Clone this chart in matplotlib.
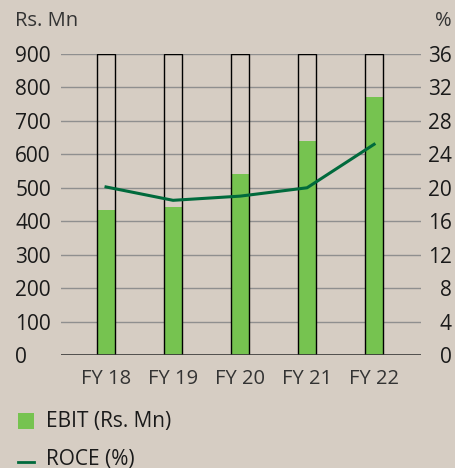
import matplotlib
matplotlib.use("Agg")
import matplotlib.pyplot as plt
from matplotlib.patches import Rectangle
from matplotlib.lines import Line2D

years = ["FY 18", "FY 19", "FY 20", "FY 21", "FY 22"]
ebit = [435, 442, 540, 640, 770]
roce = [20.1, 18.5, 19.0, 20.0, 25.2]
ebit_ticks = [0, 100, 200, 300, 400, 500, 600, 700, 800, 900]
roce_ticks = [0, 4, 8, 12, 16, 20, 24, 28, 32, 36]

bg = "#d6cdc3"
green = "#76c350"
dark_green = "#006a3c"
plt.rcParams["font.family"] = ["Open Sans", "DejaVu Sans"]

W, H = 455, 468
fig = plt.figure(figsize=(W / 100, H / 100), dpi=100, facecolor=bg)
ax = fig.add_axes([61 / W, 113 / H, 360 / W, 301 / H])
ax.set_facecolor("none")

x = list(range(len(years)))
ax.set_xlim(-0.672, 4.70)
ax.set_ylim(0, 900)
for v in ebit_ticks[1:]:
    ax.axhline(v, color="#8f8f8f", lw=1, zorder=0)
ax.axhline(0, color="#3a3a3a", lw=1.2, zorder=3)

ax.bar(x, ebit, width=0.27, color=green, edgecolor="none", zorder=1)
ax.bar(x, [900] * len(x), width=0.27, facecolor="none", edgecolor="black", lw=1, zorder=2)

ax.set_yticks(ebit_ticks)
ax.set_xticks(x)
ax.set_xticklabels(years)
ax.tick_params(axis="y", length=0, pad=33, labelsize=15, labelcolor="#1a1a1a")
ax.tick_params(axis="x", length=0, pad=10, labelsize=14.5, labelcolor="#333333")
for lab in ax.get_yticklabels():
    lab.set_horizontalalignment("left")
for s in ax.spines.values():
    s.set_visible(False)

ax2 = ax.twinx()
ax2.set_facecolor("none")
ax2.set_ylim(0, 36)
ax2.set_yticks(roce_ticks)
ax2.plot(x, roce, color=dark_green, lw=2.2, zorder=5)
ax2.tick_params(axis="y", length=0, pad=22.3, labelsize=15, labelcolor="#1a1a1a")
for lab in ax2.get_yticklabels():
    lab.set_horizontalalignment("right")
for s in ax2.spines.values():
    s.set_visible(False)

fig.text(15 / W, 1 - 21 / H, "Rs. Mn", fontsize=14.5, color="#333333", va="center", ha="left")
fig.text(452 / W, 1 - 21 / H, "%", fontsize=14.5, color="#333333", va="center", ha="right")

# legend
fig.add_artist(Rectangle((18 / W, 1 - 429 / H), 16 / W, 16 / H, transform=fig.transFigure,
                         facecolor=green, edgecolor="none"))
fig.text(46 / W, 1 - 421 / H, "EBIT (Rs. Mn)", fontsize=15, color="#1a1a1a", va="center", ha="left")
fig.add_artist(Line2D([18 / W, 34 / W], [1 - 462 / H, 1 - 462 / H], transform=fig.transFigure,
                      color=dark_green, lw=2))
fig.text(46 / W, 1 - 459 / H, "ROCE (%)", fontsize=15, color="#1a1a1a", va="center", ha="left")

fig.savefig("out.png", dpi=100, facecolor=bg)
